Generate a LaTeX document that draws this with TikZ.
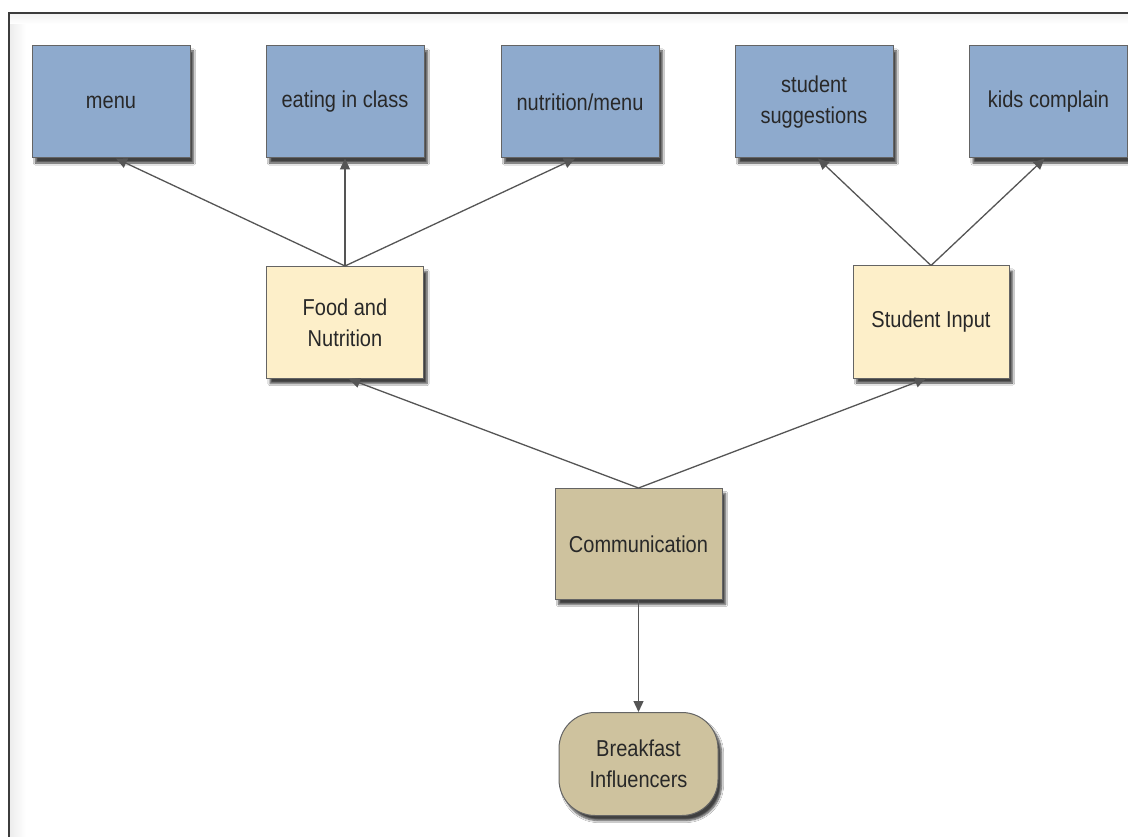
\documentclass[tikz,border=0pt]{standalone}
\usepackage{fontspec}
\setmainfont[FakeStretch=0.87]{Liberation Sans}
\usetikzlibrary{arrows.meta,shadows.blur}
\definecolor{boxblue}{RGB}{142,170,205}
\definecolor{boxcream}{RGB}{253,239,201}
\definecolor{boxtan}{RGB}{206,194,158}
\definecolor{edgegrey}{RGB}{100,100,100}
\definecolor{linkgrey}{RGB}{85,85,85}
\definecolor{textgrey}{RGB}{40,40,40}
\definecolor{framegrey}{RGB}{60,60,60}

\begin{document}
\begin{tikzpicture}[x=1pt,y=-1pt,
  box/.style={draw=edgegrey, line width=1pt, align=center, text=textgrey,
    font=\fontsize{23}{31}\selectfont, inner sep=0pt,
    blur shadow={shadow xshift=3.5pt, shadow yshift=-5pt, shadow blur steps=7, shadow opacity=75}},
  topic/.style={box, fill=boxblue, minimum width=158pt, minimum height=112pt},
  group/.style={box, fill=boxcream, minimum width=157pt, minimum height=112pt},
  hub/.style={box, fill=boxtan, minimum width=167pt, minimum height=111pt},
  goal/.style={box, fill=boxtan, rounded corners=36pt, minimum width=159pt, minimum height=103pt},
  link/.style={draw=linkgrey, line width=1.3pt, -{Triangle[length=11pt,width=10pt]}}
]
\useasboundingbox (0,0) rectangle (1128,837);

% page background and frame with a faint inner shade
\fill[white] (0,0) rectangle (1128,837);
\shade[left color=black!7, right color=white] (10,14) rectangle (26,837);
\shade[top color=black!5, bottom color=white] (10,14) rectangle (1128,24);
\draw[framegrey, line width=1.4pt] (9,13) rectangle (1140,850);

% top row
\node[topic] (menu) at (111,102) {menu};
\node[topic] (eat)  at (345,102) {eating in class};
\node[topic] (nut)  at (580,102) {nutrition/menu};
\node[topic] (sugg) at (814,102) {student\\suggestions};
\node[topic] (kids) at (1048.5,102) {kids complain};

% middle row
\node[group] (food)  at (345,322.5) {Food and\\Nutrition};
\node[group, minimum width=156pt] (input) at (931,322) {Student Input};

% hub and goal
\node[hub] (comm) at (638.5,544) {Communication};
\node[goal] (bfast) at (638.5,764) {Breakfast\\Influencers};

% connectors
\draw[link] (food.north) -- ([xshift=5pt]menu.south);
\draw[link] (food.north) -- (eat.south);
\draw[link] (food.north) -- ([xshift=-5pt]nut.south);
\draw[link] (input.north) -- ([xshift=4pt]sugg.south);
\draw[link] (input.north) -- ([xshift=-4pt]kids.south);
\draw[link] (comm.north) -- ([xshift=4pt]food.south);
\draw[link] (comm.north) -- ([xshift=-5pt]input.south);
\draw[link] (comm.south) -- (bfast.north);
\end{tikzpicture}
\end{document}
